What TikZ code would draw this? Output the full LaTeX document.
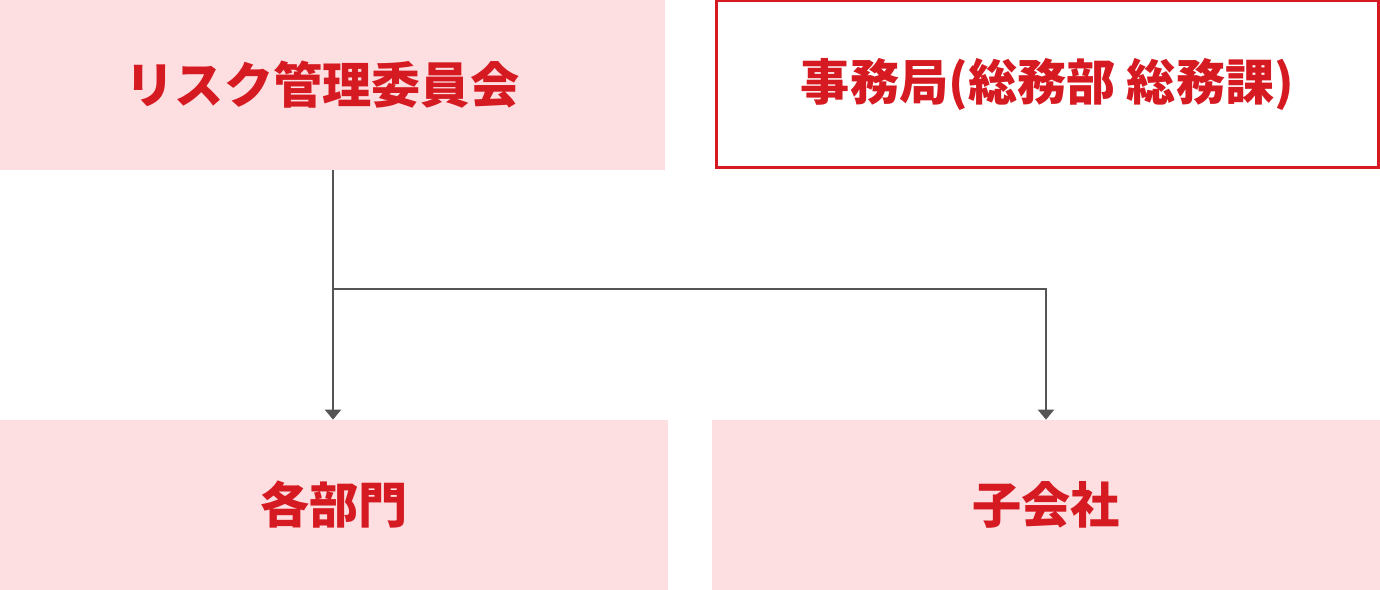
\documentclass[tikz,border=0pt]{standalone}
\usepackage{fontspec}
\newfontfamily\jp{Noto Sans CJK JP}
\usetikzlibrary{arrows.meta}
\definecolor{riskred}{RGB}{214,26,33}
\definecolor{riskpink}{RGB}{253,222,225}
\definecolor{linegray}{RGB}{85,85,85}
\tikzset{
  boxtext/.style={text=riskred, font=\jp\bfseries\fontsize{28}{34}\selectfont, inner sep=0pt},
  pinkbox/.style={boxtext, fill=riskpink, minimum height=3.4cm},
  framebox/.style={boxtext, draw=riskred, line width=0.06cm, fill=white, minimum width=13.24cm, minimum height=3.34cm},
  conn/.style={draw=linegray, line width=0.04cm, -{Triangle[width=0.32cm,length=0.2cm]}}
}
\begin{document}
\begin{tikzpicture}[x=0.02cm, y=-0.02cm]
  \useasboundingbox (0,0) rectangle (1380,590);

  % boxes
  \node[pinkbox, minimum width=13.3cm] (committee) at (332.5,85) {リスク管理委員会\hspace*{0.4cm}};
  \node[framebox] (office) at (1047.5,84) {事務局(総務部 総務課)};
  \node[pinkbox, minimum width=13.36cm] (depts) at (334,505) {各部門};
  \node[pinkbox, minimum width=13.36cm] (subsid) at (1046,505) {子会社};

  % lines
  \coordinate (split) at (333,289);
  \draw[conn] (committee.south -| split) -- (depts.north -| split);
  \draw[conn] (split) -| (subsid.north);
\end{tikzpicture}
\end{document}
